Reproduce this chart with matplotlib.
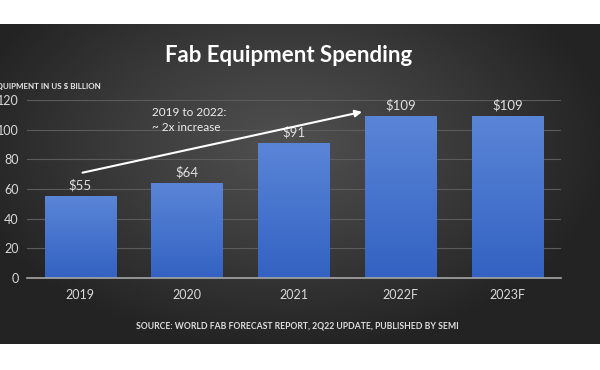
import numpy as np
import matplotlib
matplotlib.use("Agg")
import matplotlib.pyplot as plt
from matplotlib.colors import LinearSegmentedColormap

years = ["2019", "2020", "2021", "2022F", "2023F"]
spending = [55, 64, 91, 109, 109]
value_labels = ["$55", "$64", "$91", "$109", "$109"]
y_ticks = [0, 20, 40, 60, 80, 100, 120]

plt.rcParams['font.family'] = ['Lato', 'DejaVu Sans']

fig = plt.figure(figsize=(6, 3.7), dpi=100)
fig.patch.set_facecolor('white')

# dark radial background panel
bg = fig.add_axes([0, 1 - 344 / 370, 1, 320 / 370])
bg.set_axis_off()
gx, gy = np.meshgrid(np.linspace(-1, 1, 300), np.linspace(-1, 1, 160))
r = np.sqrt(((gx + 0.05) / 1.1) ** 2 + ((gy + 0.25) / 1.3) ** 2)
bg_cmap = LinearSegmentedColormap.from_list('bg', ['#505050', '#3b3b3b', '#232323'])
bg.imshow(r, cmap=bg_cmap, aspect='auto', extent=[0, 1, 0, 1], vmin=0, vmax=1)
bg.set_xlim(0, 1)
bg.set_ylim(0, 1)

ax = fig.add_axes([27 / 600, 1 - 278 / 370, 534 / 600, 178 / 370])
ax.patch.set_alpha(0)
x = np.arange(len(years))
bars = ax.bar(x, spending, width=0.67, color='#4573cf', zorder=2)

bar_cmap = LinearSegmentedColormap.from_list('bar', ['#3362c2', '#5a85d7'])
grad = np.linspace(0, 1, 100).reshape(-1, 1)
for b in bars:
    im = ax.imshow(grad, cmap=bar_cmap, aspect='auto', origin='lower',
                   extent=[b.get_x(), b.get_x() + b.get_width(), 0, b.get_height()],
                   zorder=2.5)
    im.set_clip_path(b)

for xi, v, lab in zip(x, spending, value_labels):
    ax.text(xi, v + 3, lab, ha='center', va='bottom', color='#e0e0e0', fontsize=9.5)

ax.set_xlim(-0.5, len(years) - 0.5)
ax.set_ylim(0, 120)
ax.set_yticks(y_ticks)
ax.set_xticks(x)
ax.set_xticklabels(years)
ax.tick_params(axis='both', length=0, colors='#d9d9d9', labelsize=9)
ax.tick_params(axis='y', pad=6)
ax.tick_params(axis='x', pad=8)
ax.grid(axis='y', color='#5c5c5c', linewidth=0.8, zorder=0)
ax.set_axisbelow(True)
for s in ['top', 'right', 'left']:
    ax.spines[s].set_visible(False)
ax.spines['bottom'].set_color('#a6a6a6')
ax.spines['bottom'].set_linewidth(1.2)
ax.spines['bottom'].set_zorder(3)

ax.annotate('', xy=(2.637, 112), xytext=(0.02, 71),
            arrowprops=dict(arrowstyle='-|>', color='white', lw=1.5,
                            mutation_scale=10, shrinkA=0, shrinkB=0))
ax.text(0.67, 106.5, "2019 to 2022:\n~ 2x increase", color='#eeeeee', fontsize=8.5,
        ha='left', va='center', linespacing=1.35)

fig.text(289 / 600, 1 - 55 / 370, "Fab Equipment Spending", ha='center', va='center',
         color='white', fontsize=16, fontweight='bold')
fig.text(101 / 600, 1 - 87 / 370, "EQUIPMENT IN US $ BILLION", ha='right', va='center',
         color='#e6e6e6', fontsize=5.8, fontweight='bold')
fig.text(297 / 600, 1 - 326 / 370, "SOURCE: WORLD FAB FORECAST REPORT, 2Q22 UPDATE, PUBLISHED BY SEMI",
         ha='center', va='center', color='#e0e0e0', fontsize=6.2, fontweight='bold')

fig.savefig('out.png', dpi=100, facecolor=fig.get_facecolor())
